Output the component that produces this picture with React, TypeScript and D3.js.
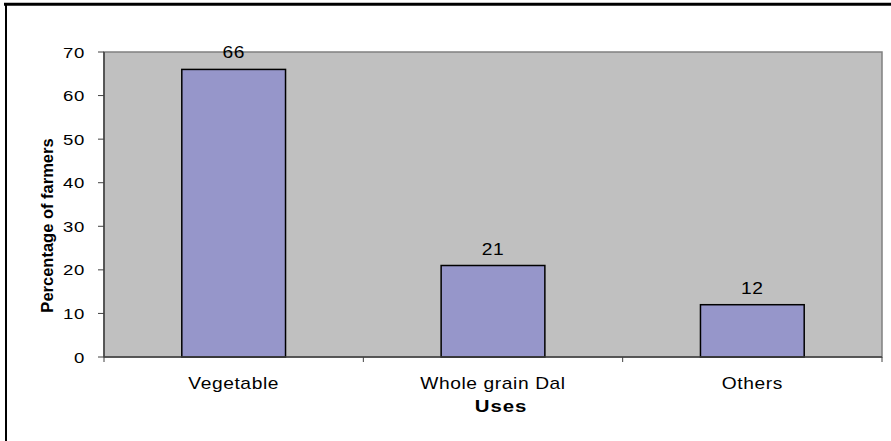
import React from "react";
import * as d3 from "d3";

const categories = ["Vegetable", "Whole grain Dal", "Others"];
const values = [66, 21, 12];
const yTicks = [0, 10, 20, 30, 40, 50, 60, 70];

const font = "'Liberation Sans', Arial, sans-serif";

function SText(props: { x: number; y: number; anchor: string; size: number; spacing?: number; bold?: boolean; children: React.ReactNode }) {
  const { x, y, anchor, size, spacing = 0.5, bold = false, children } = props;
  return (
    <text
      transform={`translate(${x},${y}) scale(1.2,1)`}
      textAnchor={anchor}
      fontFamily={font}
      fontSize={size}
      fontWeight={bold ? "bold" : "normal"}
      letterSpacing={spacing}
      fill="#000"
    >
      {children}
    </text>
  );
}

export default function App() {
  const W = 891, H = 441;
  const left = 104, right = 882, top = 52, bottom = 357;
  const x = d3.scaleBand<string>().domain(categories).range([left, right]).paddingInner(0).paddingOuter(0);
  const y = d3.scaleLinear().domain([0, 70]).range([bottom, top]);
  const bw = x.bandwidth() * 0.4;
  const boundaries = [left, ...categories.map((c) => (x(c) as number) + x.bandwidth())];
  return (
    <svg width={W} height={H} style={{ position: "absolute", left: 0, top: 0 }}>
      <rect x={0} y={0} width={W} height={H} fill="#fff" />
      <line x1={4} y1={4.2} x2={W} y2={4.2} stroke="#000" strokeWidth={3} />
      <line x1={6} y1={3} x2={6} y2={H} stroke="#000" strokeWidth={2} />
      <rect x={left} y={top} width={right - left} height={bottom - top} fill="#C0C0C0" stroke="#808080" strokeWidth={1.5} />
      {categories.map((c, i) => {
        const cx = (x(c) as number) + x.bandwidth() / 2;
        return (
          <g key={c}>
            <rect x={cx - bw / 2} y={y(values[i])} width={bw} height={bottom - y(values[i])} fill="#9696CA" stroke="#000" strokeWidth={1.5} />
            <SText x={cx} y={y(values[i]) - 11} anchor="middle" size={16}>{values[i]}</SText>
            <SText x={cx} y={389} anchor="middle" size={16}>{c}</SText>
          </g>
        );
      })}
      <line x1={left} y1={top} x2={left} y2={bottom} stroke="#404040" strokeWidth={1.5} />
      <line x1={left} y1={bottom} x2={right} y2={bottom} stroke="#404040" strokeWidth={1.5} />
      {yTicks.map((t) => (
        <g key={t}>
          <line x1={98} y1={y(t)} x2={left} y2={y(t)} stroke="#404040" strokeWidth={1} />
          <SText x={85} y={y(t) + 5.5} anchor="end" size={15.5}>{t}</SText>
        </g>
      ))}
      {boundaries.map((b, i) => (
        <line key={i} x1={b} y1={bottom} x2={b} y2={bottom + 5} stroke="#404040" strokeWidth={1} />
      ))}
      <text transform={`translate(53, 225.5) rotate(-90)`} textAnchor="middle" fontFamily={font} fontSize={16.5} fontWeight="bold" fill="#000">Percentage of farmers</text>
      <SText x={501} y={412} anchor="middle" size={17} bold spacing={0.8}>Uses</SText>
    </svg>
  );
}
